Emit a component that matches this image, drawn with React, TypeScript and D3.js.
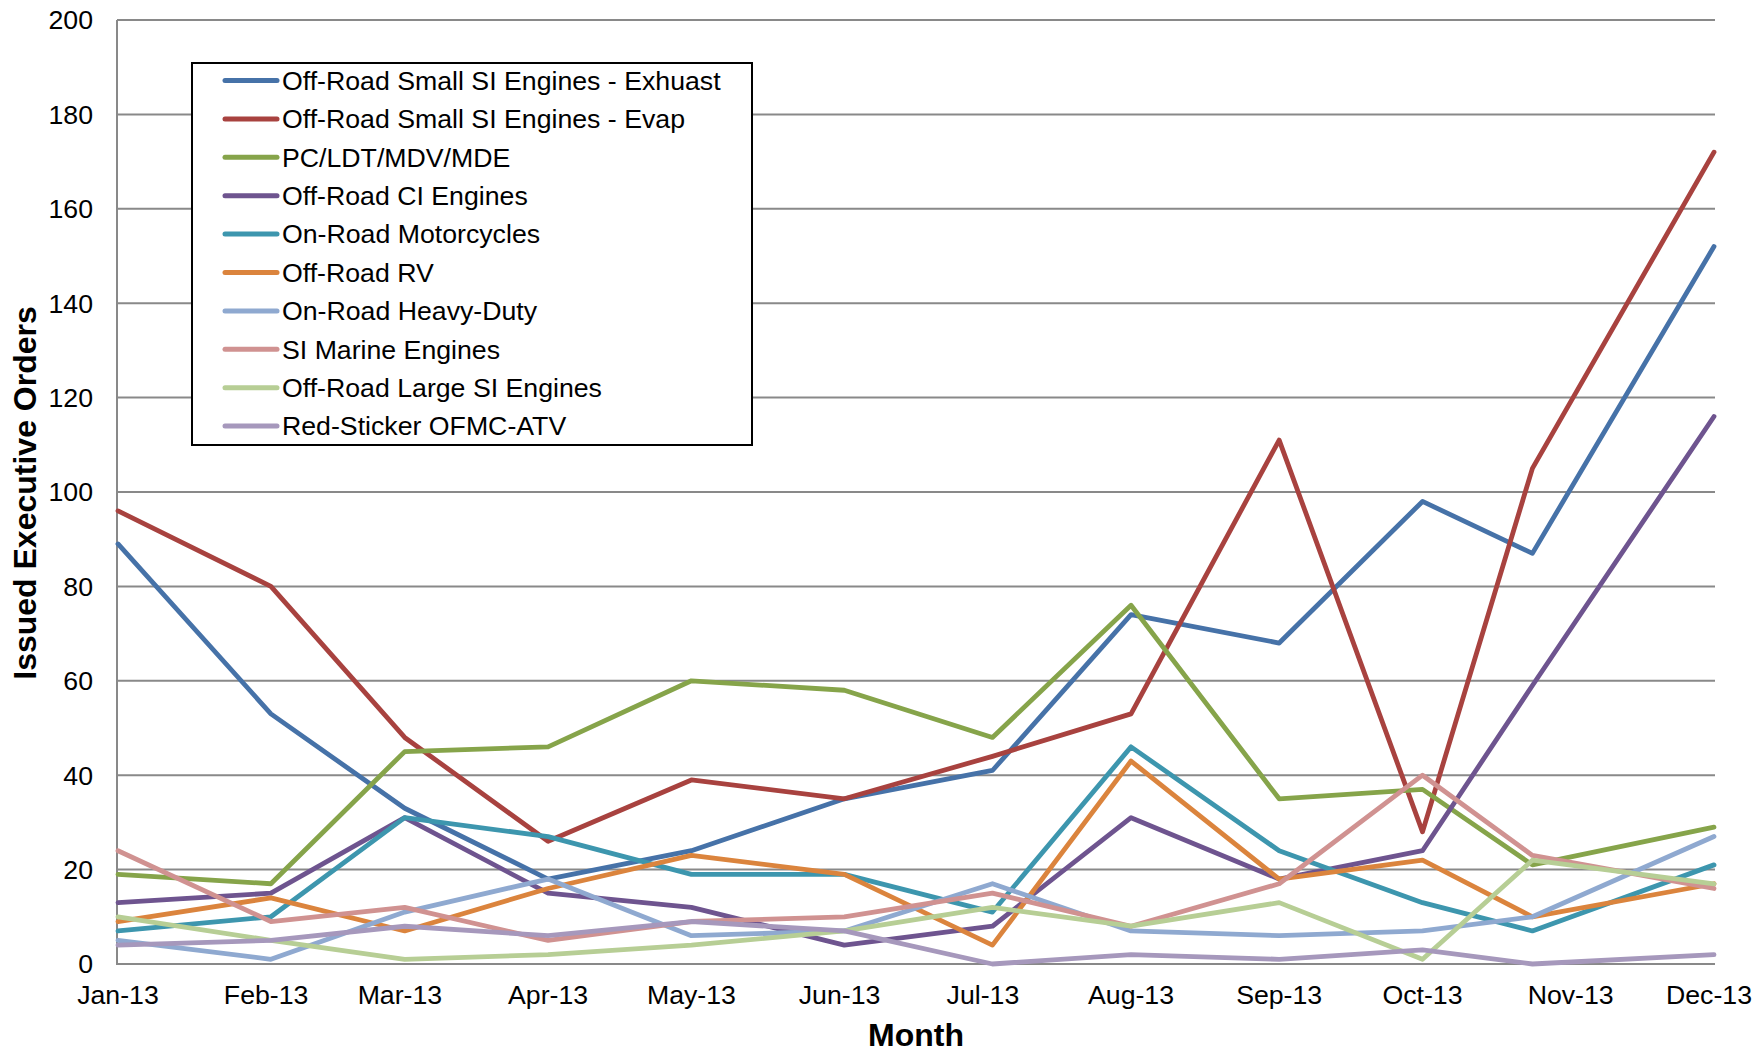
import React from "react";
import * as d3 from "d3";

const pointDates = [
  "2013-01-01", "2013-02-02", "2013-03-02", "2013-04-01", "2013-05-01", "2013-06-02",
  "2013-07-03", "2013-08-01", "2013-09-01", "2013-10-01", "2013-10-24", "2013-12-01",
];

const seriesNames = [
  "Off-Road Small SI Engines - Exhuast",
  "Off-Road Small SI Engines - Evap",
  "PC/LDT/MDV/MDE",
  "Off-Road CI Engines",
  "On-Road Motorcycles",
  "Off-Road RV",
  "On-Road Heavy-Duty",
  "SI Marine Engines",
  "Off-Road Large SI Engines",
  "Red-Sticker OFMC-ATV",
];

const exhaust = [89, 53, 33, 18, 24, 35, 41, 74, 68, 98, 87, 152];
const evap = [96, 80, 48, 26, 39, 35, 44, 53, 111, 28, 105, 172];
const pcldt = [19, 17, 45, 46, 60, 58, 48, 76, 35, 37, 21, 29];
const ciEngines = [13, 15, 31, 15, 12, 4, 8, 31, 18, 24, 59, 116];
const motorcycles = [7, 10, 31, 27, 19, 19, 11, 46, 24, 13, 7, 21];
const offRoadRV = [9, 14, 7, 16, 23, 19, 4, 43, 18, 22, 10, 17];
const heavyDuty = [5, 1, 11, 18, 6, 7, 17, 7, 6, 7, 10, 27];
const siMarine = [24, 9, 12, 5, 9, 10, 15, 8, 17, 40, 23, 16];
const largeSI = [10, 5, 1, 2, 4, 7, 12, 8, 13, 1, 22, 17];
const redSticker = [4, 5, 8, 6, 9, 7, 0, 2, 1, 3, 0, 2];

const seriesValues = [exhaust, evap, pcldt, ciEngines, motorcycles, offRoadRV, heavyDuty, siMarine, largeSI, redSticker];

const seriesColors = [
  "#4672A8", "#A8423F", "#86A44A", "#6E548F", "#3D96AE",
  "#DB843D", "#8FA9D0", "#D09291", "#B7CE95", "#A698BC",
];

const yTicks = [0, 20, 40, 60, 80, 100, 120, 140, 160, 180, 200];

const W = 1754;
const H = 1053;
const plot = { left: 117, right: 1714, top: 20, bottom: 964 };
const FONT = "'Liberation Sans', Arial, sans-serif";
const TICK_FS = 26.7;
const TITLE_FS = 32;

export default function App() {
  const dates = pointDates.map((s) => new Date(s + "T00:00:00Z"));
  const x = d3
    .scaleUtc()
    .domain([new Date(Date.UTC(2013, 0, 1)), new Date(Date.UTC(2013, 11, 1))])
    .range([plot.left + 1, plot.right]);
  const y = d3.scaleLinear().domain([0, 200]).range([plot.bottom, plot.top]);
  const monthTicks = d3.utcMonth.range(new Date(Date.UTC(2013, 0, 1)), new Date(Date.UTC(2013, 11, 2)));
  const fmt = d3.utcFormat("%b-%y");

  const line = d3
    .line<number>()
    .x((_, i) => x(dates[i]))
    .y((v) => y(v));

  const legend = { x: 192, y: 63, w: 560, h: 382, row: 38.4, first: 80.5 };

  return (
    <svg width={W} height={H} style={{ position: "absolute", left: 0, top: 0, background: "#fff" }}>
      <rect x={0} y={0} width={W} height={H} fill="#fff" />
      {yTicks.map((t) => (
        <line key={t} x1={plot.left} x2={plot.right + 1} y1={y(t)} y2={y(t)} stroke="#898989" strokeWidth={2} />
      ))}
      <line x1={plot.left} x2={plot.left} y1={plot.top} y2={plot.bottom + 1} stroke="#898989" strokeWidth={2} />
      {yTicks.map((t) => (
        <text key={t} x={93} y={y(t)} dy="0.35em" textAnchor="end" fontFamily={FONT} fontSize={TICK_FS} fill="#000">
          {t}
        </text>
      ))}
      {monthTicks.map((d, i) => {
        const last = i === monthTicks.length - 1;
        return (
          <text
            key={+d}
            x={last ? W - 2 : x(d)}
            y={1004}
            textAnchor={last ? "end" : "middle"}
            fontFamily={FONT}
            fontSize={TICK_FS}
            fill="#000"
          >
            {fmt(d)}
          </text>
        );
      })}
      <text x={916} y={1046} textAnchor="middle" fontFamily={FONT} fontSize={TITLE_FS} fontWeight="bold">
        Month
      </text>
      <text
        transform={`translate(36, ${(plot.top + plot.bottom) / 2 + 1}) rotate(-90)`}
        textAnchor="middle"
        fontFamily={FONT}
        fontSize={TITLE_FS}
        fontWeight="bold"
      >
        Issued Executive Orders
      </text>
      {seriesValues.map((vals, i) => (
        <path
          key={i}
          d={line(vals) || ""}
          fill="none"
          stroke={seriesColors[i]}
          strokeWidth={4.8}
          strokeLinejoin="round"
          strokeLinecap="round"
        />
      ))}
      <rect x={legend.x} y={legend.y} width={legend.w} height={legend.h} fill="#fff" stroke="#000" strokeWidth={2} />
      {seriesNames.map((name, i) => {
        const cy = legend.first + i * legend.row;
        return (
          <g key={name}>
            <line x1={225} x2={277} y1={cy} y2={cy} stroke={seriesColors[i]} strokeWidth={5} strokeLinecap="round" />
            <text x={282} y={cy} dy="0.35em" fontFamily={FONT} fontSize={TICK_FS} fill="#000">
              {name}
            </text>
          </g>
        );
      })}
    </svg>
  );
}
